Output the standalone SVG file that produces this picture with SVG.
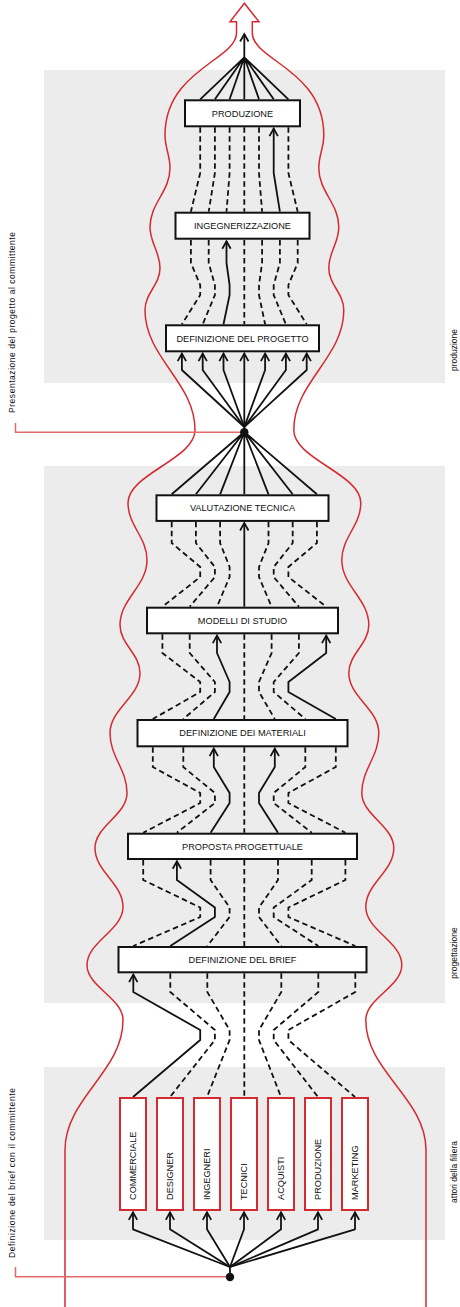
<svg xmlns="http://www.w3.org/2000/svg" width="460" height="1307" viewBox="0 0 460 1307">
  <style>
    .panel { fill: #ececec; }
    .box { fill: #fff; stroke: #111; stroke-width: 2; }
    .actor { fill: #fff; stroke: #d52a2f; stroke-width: 2; }
    .lbl { font-family: "Liberation Sans", Arial, sans-serif; font-size: 9.2px; fill: #111; text-anchor: middle; }
    .albl { font-family: "Liberation Sans", Arial, sans-serif; font-size: 9.2px; fill: #111; }
    .side { font-family: "Liberation Sans", Arial, sans-serif; font-size: 8.5px; fill: #111; text-anchor: middle; }
    .solid { fill: none; stroke: #111; stroke-width: 1.8; stroke-linejoin: round; }
    .arrow { marker-end: url(#ah); }
    .dash { fill: none; stroke: #111; stroke-width: 1.8; stroke-dasharray: 5.5 3.5; }
    .red { fill: none; stroke: #d52a2f; stroke-width: 1.5; }
    .bracket { fill: none; stroke: #e46a6a; stroke-width: 1.5; }
  </style>
  <defs>
    <marker id="ah" viewBox="-9 -6 11 12" markerWidth="11" markerHeight="12" refX="0" refY="0" orient="auto" markerUnits="userSpaceOnUse">
      <path d="M-7.5,-4.2 L0,0 L-7.5,4.2" fill="none" stroke="#111" stroke-width="1.8"/>
    </marker>
  </defs>

  <!-- phase panels -->
  <g id="panels">
    <rect class="panel" x="44" y="70" width="401" height="313"/>
    <rect class="panel" x="44" y="466" width="401" height="537"/>
    <rect class="panel" x="44" y="1067" width="401" height="173"/>
  </g>

  <!-- red outline arrow of the overall flow -->
  <g id="flow-outline">
    <path class="red" d="M236.5,33 V21.7 H230 L244.4,3.3 L259,21.7 H252.3 V33"/>
    <path class="red" d="M236.5,33 C236.5,60 165,70 165,135 C165,148.2 170,154.8 170,168 C170,191.6 150,203.4 150,227 C150,243.4 160,251.6 160,268 C160,284.8 145,293.2 145,310 C145,358 195,382 195,430 C195,459.2 128,473.8 128,503 C128,525.8 147,537.2 147,560 C147,586 120,599 120,625 C120,644.2 140,653.8 140,673 C140,697 110,709 110,733 C110,757 127,769 127,793 C127,815 95,826 95,848 C95,871.6 123,883.4 123,907 C123,930.2 87,941.8 87,965 C87,987 123,998 123,1020 C123,1072 65,1098 65,1150 V1307"/>
    <path class="red" d="M252.3,33 C252.3,60 323.8,70 323.8,135 C323.8,148.2 318.8,154.8 318.8,168 C318.8,191.6 338.8,203.4 338.8,227 C338.8,243.4 328.8,251.6 328.8,268 C328.8,284.8 343.8,293.2 343.8,310 C343.8,358 293.8,382 293.8,430 C293.8,459.2 360.8,473.8 360.8,503 C360.8,525.8 341.8,537.2 341.8,560 C341.8,586 368.8,599 368.8,625 C368.8,644.2 348.8,653.8 348.8,673 C348.8,697 378.8,709 378.8,733 C378.8,757 361.8,769 361.8,793 C361.8,815 393.8,826 393.8,848 C393.8,871.6 365.8,883.4 365.8,907 C365.8,930.2 401.8,941.8 401.8,965 C401.8,987 365.8,998 365.8,1020 C365.8,1072 426,1098 426,1150 V1307"/>
  </g>

  <!-- connectors -->
  <g id="connectors">
    <!-- into the final output -->
    <path class="solid" d="M200.2,99.3 L244.3,57.3 M214.9,99.3 L244.3,57.3 M229.6,99.3 L244.3,57.3 M244.3,99.3 V57.3 M259,99.3 L244.3,57.3 M273.7,99.3 L244.3,57.3 M288.4,99.3 L244.3,57.3"/>
    <path class="solid arrow" d="M244.3,57.3 V34"/>

    <!-- produzione / ingegnerizzazione -->
    <path class="dash" d="M200.2,127.3 V173 L190.9,211.7 M214.9,127.3 V173 L208.7,211.7 M229.6,127.3 V173 L226.5,211.7 M244.3,127.3 V211.7 M259,127.3 V173 L262.1,211.7 M288.4,127.3 V173 L297.7,211.7"/>
    <path class="solid arrow" d="M279.9,211.7 L273.7,173 V128.6"/>

    <!-- ingegnerizzazione / definizione del progetto -->
    <path class="dash" d="M190.9,240 V263 L200.2,285 V295 L181.9,324.3 M208.7,240 V263 L214.9,285 V295 L202.7,324.3 M244.3,240 V324.3 M262.1,240 V263 L259,285 V295 L265.1,324.3 M279.9,240 V263 L273.7,285 V295 L285.9,324.3 M297.7,240 V263 L288.4,285 V295 L306.7,324.3"/>
    <path class="solid arrow" d="M223.5,324.3 L229.6,295 V285 L226.5,263 V241.3"/>

    <!-- presentation hub up to definizione del progetto -->
    <path class="solid arrow" d="M244.3,427 L181.9,370 V353.6"/>
    <path class="solid arrow" d="M244.3,427 L202.7,370 V353.6"/>
    <path class="solid arrow" d="M244.3,427 L223.5,370 V353.6"/>
    <path class="solid arrow" d="M244.3,427 V353.6"/>
    <path class="solid arrow" d="M244.3,427 L265.1,370 V353.6"/>
    <path class="solid arrow" d="M244.3,427 L285.9,370 V353.6"/>
    <path class="solid arrow" d="M244.3,427 L306.7,370 V353.6"/>
    <path class="solid" d="M244.3,427 V432"/>

    <!-- valutazione tecnica up to the hub -->
    <path class="solid" d="M244.3,432 L171.7,494.3 M244.3,432 L195.9,494.3 M244.3,432 L220.1,494.3 M244.3,432 V494.3 M244.3,432 L268.5,494.3 M244.3,432 L292.7,494.3 M244.3,432 L316.9,494.3"/>

    <!-- valutazione tecnica / modelli di studio -->
    <path class="dash" d="M171.7,521.7 V543 L200.2,567 V577 L162.4,606.7 M195.9,521.7 V543 L214.9,567 V577 L189.7,606.7 M220.1,521.7 V543 L229.6,567 V577 L217,606.7 M268.5,521.7 V543 L259,567 V577 L271.6,606.7 M292.7,521.7 V543 L273.7,567 V577 L298.9,606.7 M316.9,521.7 V543 L288.4,567 V577 L326.2,606.7"/>
    <path class="solid arrow" d="M244.3,606.7 V523"/>

    <!-- modelli di studio / definizione dei materiali -->
    <path class="dash" d="M162.4,634.3 V653 L200.2,682 V692 L152.8,719 M189.7,634.3 V653 L214.9,682 V692 L183.3,719 M244.3,634.3 V719 M271.6,634.3 V653 L259,682 V692 L274.8,719 M298.9,634.3 V653 L273.7,682 V692 L305.3,719"/>
    <path class="solid arrow" d="M213.8,719 L229.6,692 V682 L217,653 V635.6"/>
    <path class="solid arrow" d="M335.8,719 L288.4,692 V682 L326.2,653 V635.6"/>

    <!-- definizione dei materiali / proposta progettuale -->
    <path class="dash" d="M152.8,747.3 V767 L200.2,793 V803 L143.2,832.7 M183.3,747.3 V767 L214.9,793 V803 L176.9,832.7 M244.3,747.3 V832.7 M305.3,747.3 V767 L273.7,793 V803 L311.7,832.7 M335.8,747.3 V767 L288.4,793 V803 L345.4,832.7"/>
    <path class="solid arrow" d="M210.6,832.7 L229.6,803 V793 L213.8,767 V748.6"/>
    <path class="solid arrow" d="M278,832.7 L259,803 V793 L274.8,767 V748.6"/>

    <!-- proposta progettuale / definizione del brief -->
    <path class="dash" d="M143.2,860 V880 L200.2,907.5 V917 L133.3,946 M210.6,860 V880 L229.6,907.5 V917 L207.3,946 M244.3,860 V946 M278,860 V880 L259,907.5 V917 L281.3,946 M311.7,860 V880 L273.7,907.5 V917 L318.3,946 M345.4,860 V880 L288.4,907.5 V917 L355.3,946"/>
    <path class="solid arrow" d="M170.3,946 L214.9,917 V907.5 L176.9,880 V861.3"/>

    <!-- definizione del brief / actors -->
    <path class="dash" d="M170.3,973.3 V992 L214.9,1030 V1040 L170,1097 M207.3,973.3 V992 L229.6,1030 V1040 L207,1097 M244.3,973.3 V1097 M281.3,973.3 V992 L259,1030 V1040 L281,1097 M318.3,973.3 V992 L273.7,1030 V1040 L318,1097 M355.3,973.3 V992 L288.4,1030 V1040 L355,1097"/>
    <path class="solid arrow" d="M133,1097 L200.2,1040 V1030 L133.3,992 V974.6"/>

    <!-- brief hub up to the actors -->
    <path class="solid arrow" d="M230,1267 L133,1229.3 V1212.4"/>
    <path class="solid arrow" d="M230,1267 L170,1229.3 V1212.4"/>
    <path class="solid arrow" d="M230,1267 L207,1229.3 V1212.4"/>
    <path class="solid arrow" d="M230,1267 L244,1229.3 V1212.4"/>
    <path class="solid arrow" d="M230,1267 L281,1229.3 V1212.4"/>
    <path class="solid arrow" d="M230,1267 L318,1229.3 V1212.4"/>
    <path class="solid arrow" d="M230,1267 L355,1229.3 V1212.4"/>
    <path class="solid" d="M230,1267 V1277"/>

    <!-- client meetings -->
    <path class="bracket" d="M15.5,423 V432.3 H244.3"/>
    <path class="bracket" d="M15.5,1267 V1276.8 H230"/>
    <circle cx="244.3" cy="432.3" r="4.2" fill="#111"/>
    <circle cx="230" cy="1277" r="4.2" fill="#111"/>
  </g>

  <!-- process steps -->
  <g id="produzione">
    <rect class="box" x="185" y="100.3" width="115" height="26"/>
    <text class="lbl" x="242.5" y="116.6">PRODUZIONE</text>
  </g>
  <g id="ingegnerizzazione">
    <rect class="box" x="175.5" y="212.7" width="134" height="26"/>
    <text class="lbl" x="242.5" y="229">INGEGNERIZZAZIONE</text>
  </g>
  <g id="definizione-progetto">
    <rect class="box" x="166" y="325.3" width="153" height="26"/>
    <text class="lbl" x="242.5" y="341.6">DEFINIZIONE DEL PROGETTO</text>
  </g>
  <g id="valutazione-tecnica">
    <rect class="box" x="156.5" y="495.3" width="172" height="25.6"/>
    <text class="lbl" x="242.5" y="511.4">VALUTAZIONE TECNICA</text>
  </g>
  <g id="modelli-studio">
    <rect class="box" x="147" y="607.7" width="191" height="25.6"/>
    <text class="lbl" x="242.5" y="623.8">MODELLI DI STUDIO</text>
  </g>
  <g id="definizione-materiali">
    <rect class="box" x="137.5" y="720" width="210" height="26.3"/>
    <text class="lbl" x="242.5" y="736.4">DEFINIZIONE DEI MATERIALI</text>
  </g>
  <g id="proposta-progettuale">
    <rect class="box" x="128" y="833.7" width="229" height="25.3"/>
    <text class="lbl" x="242.5" y="849.6">PROPOSTA PROGETTUALE</text>
  </g>
  <g id="definizione-brief">
    <rect class="box" x="118.5" y="947" width="248" height="25.3"/>
    <text class="lbl" x="242.5" y="962.9">DEFINIZIONE DEL BRIEF</text>
  </g>

  <!-- supply chain actors -->
  <g id="commerciale">
    <rect class="actor" x="120" y="1098" width="26" height="112"/>
    <text class="albl" transform="translate(136.3,1200) rotate(-90)">COMMERCIALE</text>
  </g>
  <g id="designer">
    <rect class="actor" x="157" y="1098" width="26" height="112"/>
    <text class="albl" transform="translate(173.3,1200) rotate(-90)">DESIGNER</text>
  </g>
  <g id="ingegneri">
    <rect class="actor" x="194" y="1098" width="26" height="112"/>
    <text class="albl" transform="translate(210.3,1200) rotate(-90)">INGEGNERI</text>
  </g>
  <g id="tecnici">
    <rect class="actor" x="231" y="1098" width="26" height="112"/>
    <text class="albl" transform="translate(247.3,1200) rotate(-90)">TECNICI</text>
  </g>
  <g id="acquisti">
    <rect class="actor" x="268" y="1098" width="26" height="112"/>
    <text class="albl" transform="translate(284.3,1200) rotate(-90)">ACQUISTI</text>
  </g>
  <g id="produzione-attore">
    <rect class="actor" x="305" y="1098" width="26" height="112"/>
    <text class="albl" transform="translate(321.3,1200) rotate(-90)">PRODUZIONE</text>
  </g>
  <g id="marketing">
    <rect class="actor" x="342" y="1098" width="26" height="112"/>
    <text class="albl" transform="translate(358.3,1200) rotate(-90)">MARKETING</text>
  </g>

  <!-- side captions -->
  <g id="captions">
    <text class="side" transform="translate(15,322.5) rotate(-90)" textLength="181" lengthAdjust="spacing">Presentazione del progetto al committente</text>
    <text class="side" transform="translate(15,1173) rotate(-90)" textLength="170" lengthAdjust="spacing">Definizione del brief con il committente</text>
    <text class="side" transform="translate(457,350) rotate(-90)">produzione</text>
    <text class="side" transform="translate(457,953) rotate(-90)">progettazione</text>
    <text class="side" transform="translate(457,1172) rotate(-90)">attori della filiera</text>
  </g>
</svg>
